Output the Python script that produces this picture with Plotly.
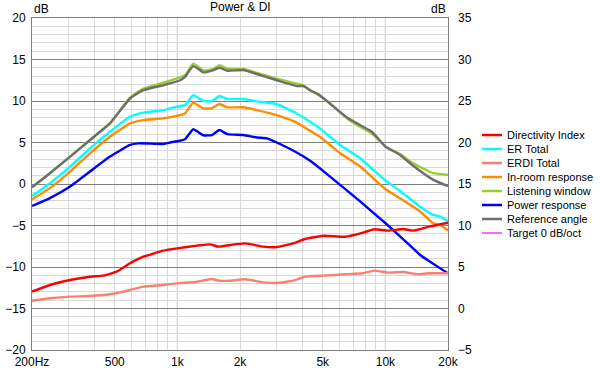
import plotly.graph_objects as go

# ---------------- data ----------------
ref_freq = [200, 244, 305, 380, 474, 592, 686, 856, 1030, 1088, 1192, 1333, 1467, 1592, 1741,
            2077, 2405, 3005, 3746, 4030, 4347, 4840, 5410, 6540, 7560, 8600, 10020, 11760,
            13600, 17000, 20000]
ref_angle = [-0.4, 1.3, 3.3, 5.3, 7.3, 10.3, 11.3, 11.9, 12.5, 12.9, 14.2, 13.45, 13.65, 14.0, 13.65,
             13.73, 13.25, 12.5, 11.8, 11.8, 11.3, 10.7, 9.7, 8.0, 7.1, 6.3, 4.5, 3.5,
             2.2, 0.5, -0.25]
listening_window = [-0.4, 1.3, 3.3, 5.3, 7.3, 10.4, 11.5, 12.2, 12.85, 13.1, 14.5, 13.7, 13.8, 14.3, 13.9,
                    13.85, 13.4, 12.7, 12.1, 11.9, 11.3, 10.6, 9.7, 7.9, 6.9, 6.1, 4.5, 3.6,
                    2.5, 1.3, 1.1]

er_freq = [200, 244, 305, 380, 474, 592, 686, 856, 1030, 1088, 1192, 1333, 1467, 1592, 1741,
           2077, 2405, 3005, 3746, 4347, 4840, 6060, 7560, 10020, 11760, 14700, 17000, 18300, 20000]
er_total = [-1.45, 0.1, 2.1, 4.3, 6.3, 8.1, 8.6, 8.9, 9.4, 9.5, 10.7, 10.0, 10.0, 10.6, 10.24,
            10.24, 9.96, 9.64, 8.5, 7.5, 6.7, 4.7, 3.1, 0.4, -0.84, -2.73, -3.73, -3.9, -4.5]
in_room = [-1.85, -0.5, 1.5, 3.7, 5.7, 7.3, 7.7, 7.9, 8.3, 8.5, 9.8, 9.1, 9.15, 9.64, 9.24,
           9.24, 8.9, 8.3, 7.4, 6.4, 5.7, 3.7, 2.1, -0.64, -1.72, -3.33, -4.75, -4.94, -5.6]

pw_freq = [200, 244, 305, 380, 474, 592, 650, 856, 922, 1088, 1192, 1333, 1467, 1592, 1741,
           2077, 2405, 2700, 3005, 3746, 4347, 4840, 6060, 7560, 10020, 11760, 14700, 16400, 20000]
power = [-2.65, -1.7, -0.3, 1.5, 3.3, 4.7, 4.9, 4.82, 5.0, 5.4, 6.6, 5.87, 5.9, 6.5, 6.0,
         5.9, 5.6, 5.5, 5.0, 3.8, 2.8, 1.9, -0.1, -2.1, -4.73, -6.3, -8.55, -9.36, -10.76]

# directivity curves use the right-hand axis (-5 .. 35 dB)
di_freq = [200, 244, 305, 380, 440, 510, 592, 686, 856, 995, 1240, 1440, 1570, 1790, 2120,
           2590, 3000, 3610, 4100, 5020, 6400, 7810, 8800, 10300, 12200, 13600, 16200, 20000]
di = [2.03, 2.83, 3.43, 3.83, 3.96, 4.44, 5.45, 6.24, 6.97, 7.25, 7.57, 7.73, 7.45, 7.65, 7.85,
      7.45, 7.4, 7.85, 8.37, 8.77, 8.65, 9.14, 9.54, 9.38, 9.58, 9.38, 9.86, 10.34]

erdi_freq = [200, 244, 305, 380, 474, 592, 686, 856, 995, 1240, 1460, 1590, 1790, 2120, 2590,
             3000, 3610, 4100, 5020, 6400, 7810, 8800, 10300, 12200, 14300, 16200, 20000]
erdi = [0.94, 1.23, 1.43, 1.5, 1.71, 2.23, 2.63, 2.83, 3.03, 3.23, 3.55, 3.35, 3.35, 3.52, 3.15,
        3.07, 3.35, 3.83, 3.96, 4.12, 4.24, 4.56, 4.32, 4.4, 4.12, 4.24, 4.24]

x_tick_vals = [200, 500, 1000, 2000, 5000, 10000, 20000]
x_tick_text = ["200Hz", "500", "1k", "2k", "5k", "10k", "20k"]
x_minor_vals = [300, 400, 600, 700, 800, 900, 3000, 4000, 6000, 7000, 8000, 9000]
x_major_grid = [1000, 10000]

series_names = ["Directivity Index", "ER Total", "ERDI Total", "In-room response",
                "Listening window", "Power response", "Reference angle", "Target 0 dB/oct"]
series_colors = ["#FF0000", "#00FFFF", "#FA8072", "#FF8C00", "#9ACD32", "#0000FF", "#6E6E6E", "#FF00FF"]

# ---------------- figure ----------------
FONT = "Liberation Sans"
fig = go.Figure()
lw = 2.4
sm = 0.4

def add(x, y, idx, yaxis="y"):
    fig.add_trace(go.Scatter(x=x, y=y, mode="lines", name=series_names[idx], yaxis=yaxis,
                             line=dict(color=series_colors[idx], width=lw, shape="spline", smoothing=sm),
                             showlegend=False, hoverinfo="skip"))

add(di_freq, di, 0, "y2")
add(er_freq, er_total, 1)
add(erdi_freq, erdi, 2, "y2")
add(er_freq, in_room, 3)
add(ref_freq, listening_window, 4)
add(pw_freq, power, 5)
add(ref_freq, ref_angle, 6)

for fx in x_major_grid:
    fig.add_shape(type="line", xref="x", yref="paper", x0=fx, x1=fx, y0=0, y1=1,
                  line=dict(color="#808080", width=1), layer="below")

# manual legend (compact like the reference)
lx0, lx1, tx = 1.0817, 1.1298, 1.137
ly0, lstep = 0.6476, 14 / 332
for i, (nm, col) in enumerate(zip(series_names, series_colors)):
    yy = ly0 - i * lstep
    fig.add_shape(type="line", xref="paper", yref="paper", x0=lx0, x1=lx1, y0=yy, y1=yy,
                  line=dict(color=col, width=1.2 if i == 7 else 2.5))
    fig.add_annotation(xref="paper", yref="paper", x=tx, y=yy, text=nm, showarrow=False,
                       xanchor="left", yanchor="middle", font=dict(family=FONT, size=11, color="#000"))

fig.add_annotation(xref="paper", yref="paper", x=0.5, y=1, yshift=2, text="Power & DI", showarrow=False,
                   xanchor="center", yanchor="bottom", font=dict(family=FONT, size=12, color="#000"))
fig.add_annotation(xref="paper", yref="paper", x=0, y=1, yshift=0, text="dB", showarrow=False,
                   xanchor="left", yanchor="bottom", font=dict(family=FONT, size=12, color="#000"))
fig.add_annotation(xref="paper", yref="paper", x=1, y=1, yshift=0, text="dB", showarrow=False,
                   xanchor="right", yanchor="bottom", font=dict(family=FONT, size=12, color="#000"))

fig.update_layout(
    width=600, height=368,
    margin=dict(l=32, r=152, t=18, b=18, autoexpand=False),
    paper_bgcolor="white", plot_bgcolor="white",
    font=dict(family=FONT, size=12, color="#000"),
    showlegend=False,
    xaxis=dict(type="log", range=[2.30103, 4.30103], tickvals=x_tick_vals, ticktext=x_tick_text,
               showgrid=True, gridcolor="#D9D9D9", gridwidth=1, ticks="", zeroline=False,
               showline=True, linecolor="#808080", mirror=True, automargin=False,
               minor=dict(tickvals=x_minor_vals, showgrid=True, gridcolor="#D9D9D9", ticks=""),
               ticklabelstandoff=1),
    yaxis=dict(range=[-20, 20], dtick=5, showgrid=True, gridcolor="#808080", gridwidth=1, ticks="",
               zeroline=False, showline=True, linecolor="#808080", mirror=True, automargin=False,
               minor=dict(dtick=1, showgrid=True, gridcolor="#D9D9D9"), ticklabelstandoff=3),
    yaxis2=dict(range=[-5, 35], dtick=5, overlaying="y", side="right", showgrid=False, ticks="",
                zeroline=False, showline=False, ticklabelstandoff=9, automargin=False),
)

fig.write_html("out.html", config={"displayModeBar": False},
               post_script="document.body.style.margin='0';")
